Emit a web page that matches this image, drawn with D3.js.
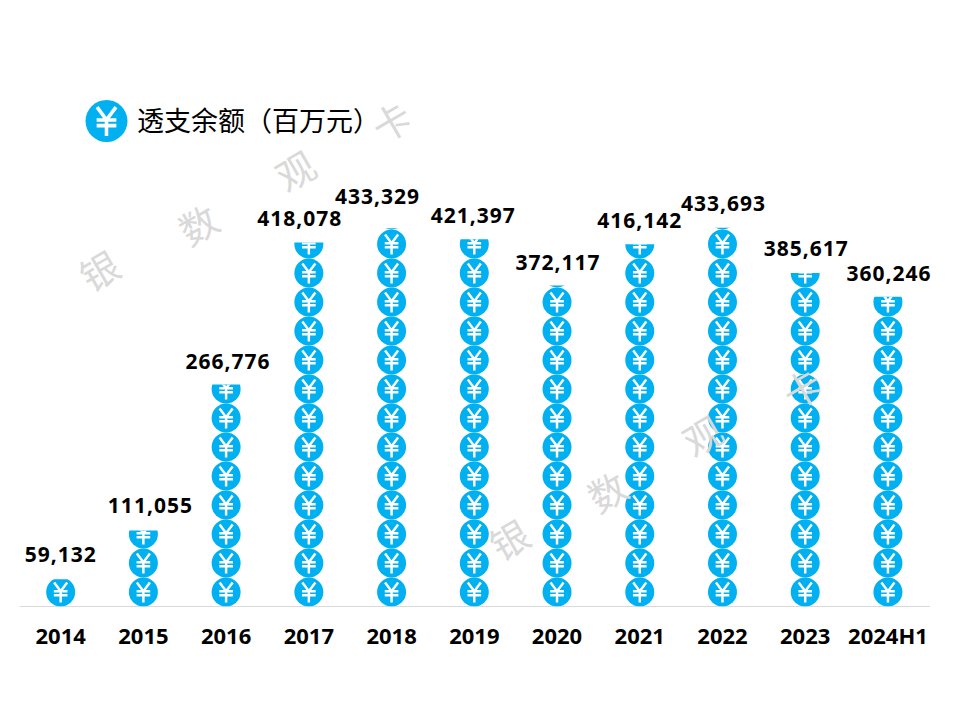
<!DOCTYPE html>
<html lang="zh">
<head>
<meta charset="UTF-8">
<title>透支余额</title>
<script src="https://cdn.jsdelivr.net/npm/d3@7"></script>
<style>
  html, body { margin: 0; background: #fff; }
  svg { display: block; }
</style>
</head>
<body>
<svg id="chart" width="960" height="720"></svg>
<script>
// Data
const years = ["2014", "2015", "2016", "2017", "2018", "2019", "2020", "2021", "2022", "2023", "2024H1"];
const balances = [59132, 111055, 266776, 418078, 433329, 421397, 372117, 416142, 433693, 385617, 360246];
const legendLabel = "透支余额（百万元）";
const watermark = ["银", "数", "观", "卡"];

const blue = "#00b0f0";
const latin = "'Noto Sans', 'Open Sans', sans-serif";
const cjk = "'Noto Sans CJK SC', sans-serif";

const svg = d3.select("#chart");
const baseline = 606.5;
const tile = 29;

const x = d3.scaleBand().domain(years).range([19.3, 929.3]);
// the value axis of the original does not start at zero
const y = d3.scaleLinear().domain([30000, 450000]).range([baseline, baseline - 394]);

// coin with a yen sign, drawn around 0,0
function coin(g, r) {
  g.append("circle").attr("r", r).attr("fill", blue);
  g.append("path")
    .attr("d", "M-.45-.66L0-.06L.45-.66M0-.06V.72M-.47-.05H.47M-.47 .22H.47")
    .attr("transform", "scale(" + r + ")")
    .attr("fill", "none")
    .attr("stroke", "#fff")
    .attr("stroke-width", 0.17);
}

// Axis
const axis = svg.append("g")
  .attr("transform", "translate(0," + (baseline - 0.5) + ")")
  .call(d3.axisBottom(x).tickSize(0).tickPadding(22));
axis.select(".domain").attr("stroke", "#d9d9d9").attr("stroke-width", 1);
axis.selectAll("text")
  .attr("fill", "#000")
  .style("font", "bold 22px " + latin);

// Columns of coins, cut off at the value
const defs = svg.append("defs");
const columns = svg.append("g").selectAll("g")
  .data(years)
  .join("g")
  .attr("clip-path", (d, i) => "url(#col" + i + ")");

years.forEach((year, i) => {
  const top = y(balances[i]);
  defs.append("clipPath").attr("id", "col" + i)
    .append("rect")
    .attr("x", x(year))
    .attr("y", top)
    .attr("width", x.bandwidth())
    .attr("height", baseline - top);

  const n = Math.ceil((baseline - top) / tile);
  columns.filter(d => d === year).selectAll("g")
    .data(d3.range(n))
    .join("g")
    .attr("transform", k => "translate(" + (x(year) + x.bandwidth() / 2) + "," + (baseline - tile / 2 - k * tile) + ")")
    .each(function () { coin(d3.select(this), 14.5); });
});

// Value labels, some were moved by hand in the original
const labelNudge = {
  "2015": [7, 0], "2016": [2, 2], "2017": [-9, 1], "2018": [-14, -7], "2019": [-1, 1],
  "2020": [1, 1], "2021": [0, 1], "2022": [1, 0], "2023": [1, 0], "2024H1": [1, 1]
};
svg.append("g").selectAll("text")
  .data(balances)
  .join("text")
  .attr("x", (d, i) => x(years[i]) + x.bandwidth() / 2 + (labelNudge[years[i]] || [0, 0])[0])
  .attr("y", (d, i) => y(d) - 17 + (labelNudge[years[i]] || [0, 0])[1])
  .attr("text-anchor", "middle")
  .attr("fill", "#000")
  .attr("letter-spacing", 1)
  .style("font", "bold 21px " + latin)
  .text(d => d3.format(",")(d));

// Legend
const legend = svg.append("g");
legend.append("g").attr("transform", "translate(106.5,121)").call(coin, 21);
legend.append("text")
  .attr("x", 137)
  .attr("y", 131)
  .attr("fill", "#000")
  .style("font", "27px " + cjk)
  .text(legendLabel);

// Watermark, twice across the page
const marks = svg.append("g");
[[100, 272, 199, 226, 296, 172, 392, 123], [510, 541, 608, 493, 703, 437, 803, 390]].forEach(p => {
  watermark.forEach((ch, i) => {
    marks.append("text")
      .attr("transform", "translate(" + p[i * 2] + "," + p[i * 2 + 1] + ") rotate(-30)")
      .attr("text-anchor", "middle")
      .attr("dy", "0.36em")
      .attr("fill", "#d9d9d9")
      .style("font", "38px " + cjk)
      .text(ch);
  });
});
</script>
</body>
</html>
